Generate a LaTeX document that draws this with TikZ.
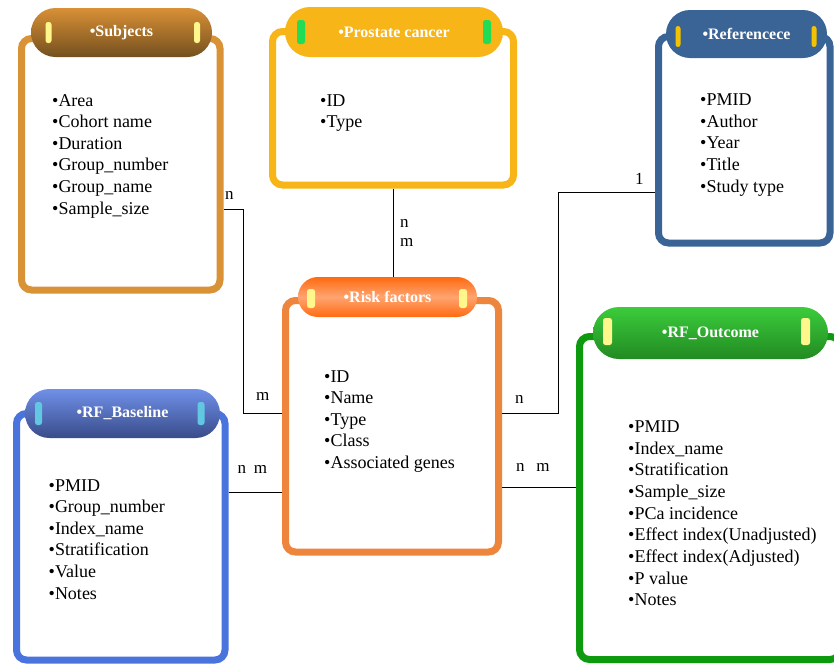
\documentclass[tikz,border=0pt]{standalone}
\usepackage{fontspec}
\setmainfont{Liberation Serif}
\usetikzlibrary{shapes.misc}
\definecolor{subjC}{HTML}{DA9236}
\definecolor{subjT}{HTML}{D89036}
\definecolor{subjB}{HTML}{74501F}
\definecolor{pcaC}{HTML}{F8B517}
\definecolor{refC}{HTML}{3A6495}
\definecolor{riskC}{HTML}{EE853C}
\definecolor{riskT}{HTML}{FF6A10}
\definecolor{riskM}{HTML}{FFA470}
\definecolor{baseC}{HTML}{4A74DD}
\definecolor{baseT}{HTML}{7090E8}
\definecolor{baseB}{HTML}{394C8A}
\definecolor{outC}{HTML}{0E9A0E}
\definecolor{outT}{HTML}{3BCC3B}
\definecolor{outB}{HTML}{228A22}
\definecolor{paleY}{HTML}{FFF68C}
\definecolor{tabG}{HTML}{22DC55}
\definecolor{tabO}{HTML}{F3C200}
\definecolor{tabC}{HTML}{62C8E2}
\tikzset{frame/.style={rectangle,rounded corners=10pt,line width=7pt,fill=white}}
\tikzset{hd/.style={rounded rectangle,inner sep=0pt,text=white,font=\fontsize{16pt}{19pt}\selectfont\bfseries}}
\tikzset{tab/.style={rectangle,rounded corners=2.5pt,inner sep=0pt}}
\tikzset{item/.style={anchor=base west,inner sep=0pt,font=\fontsize{18pt}{21.65pt}\selectfont}}
\tikzset{lbl/.style={anchor=base west,inner sep=0pt,font=\fontsize{17pt}{20pt}\selectfont}}
\tikzset{link/.style={line width=0.9pt}}

\begin{document}
\begin{tikzpicture}[x=1pt,y=-1pt]
      \useasboundingbox (0,0) rectangle (834,665);
      \clip (0,0) rectangle (834,665);
      \fill[white] (0,0) rectangle (834,665);

      \node[frame,draw=subjC,minimum width=198.5pt,minimum height=251.5pt] (subj) at (120.75,164.25) {};
      \node[frame,draw=pcaC,minimum width=241pt,minimum height=153.5pt] (pca) at (393,108.25) {};
      \node[frame,draw=refC,minimum width=171.5pt,minimum height=206.5pt] (refs) at (744.25,139.75) {};
      \node[frame,draw=riskC,minimum width=213pt,minimum height=251.5pt] (risk) at (392,426.25) {};
      \node[frame,draw=baseC,minimum width=208.5pt,minimum height=246.5pt] (base) at (120.75,536.75) {};
      \node[frame,draw=outC,minimum width=260.5pt,minimum height=323pt] (outc) at (709.75,498) {};

      \node[hd,top color=subjT,bottom color=subjB,minimum width=181pt,minimum height=49pt] (subjh) at (121.5,32.5) {•Subjects};
      \node[hd,fill=pcaC,minimum width=218pt,minimum height=50pt] (pcah) at (394,32) {•Prostate cancer};
      \node[hd,fill=refC,minimum width=161pt,minimum height=48pt] (refh) at (746.5,34) {•Referencece};
      \node[hd,top color=riskT,bottom color=riskT,middle color=riskM,minimum width=179pt,minimum height=40pt] (riskh) at (387.5,297) {•Risk factors};
      \node[hd,top color=baseT,bottom color=baseB,minimum width=195pt,minimum height=49pt] (baseh) at (122.5,413.5) {•RF\_Baseline};
      \node[hd,top color=outT,bottom color=outB,minimum width=235pt,minimum height=52pt] (outh) at (710.5,333) {•RF\_Outcome};

      \node[tab,fill=paleY,minimum width=6pt,minimum height=21pt] (t1) at (48.5,32.5) {};
      \node[tab,fill=paleY,minimum width=6pt,minimum height=21pt] (t2) at (197,32.5) {};
      \node[tab,fill=tabG,minimum width=8pt,minimum height=24pt] (t3) at (301,32) {};
      \node[tab,fill=tabG,minimum width=8pt,minimum height=24pt] (t4) at (487,32) {};
      \node[tab,fill=tabO,minimum width=5pt,minimum height=21pt] (t5) at (678,36.5) {};
      \node[tab,fill=tabO,minimum width=5pt,minimum height=21pt] (t6) at (814,36.5) {};
      \node[tab,fill=paleY,minimum width=8pt,minimum height=19pt] (t7) at (311,298.5) {};
      \node[tab,fill=paleY,minimum width=8pt,minimum height=19pt] (t8) at (463,298.5) {};
      \node[tab,fill=tabC,minimum width=7pt,minimum height=23pt] (t9) at (38.5,413.5) {};
      \node[tab,fill=tabC,minimum width=7pt,minimum height=23pt] (t10) at (201,413.5) {};
      \node[tab,fill=paleY,minimum width=9pt,minimum height=27pt] (t11) at (607.5,331.5) {};
      \node[tab,fill=paleY,minimum width=9pt,minimum height=27pt] (t12) at (805.5,331.5) {};

      \foreach \w [count=\i] in {Area,Cohort name,Duration,Group\_number,Group\_name,Sample\_size}
        \node[item] (s\i) at (52,{106+21.65*(\i-1)}) {•\w};
      \foreach \w [count=\i] in {ID,Type}
        \node[item] (p\i) at (320,{106+21.65*(\i-1)}) {•\w};
      \foreach \w [count=\i] in {PMID,Author,Year,Title,Study type}
        \node[item] (r\i) at (700,{105.5+21.65*(\i-1)}) {•\w};
      \foreach \w [count=\i] in {ID,Name,Type,Class,Associated genes}
        \node[item] (k\i) at (324,{382+21.65*(\i-1)}) {•\w};
      \foreach \w [count=\i] in {PMID,Group\_number,Index\_name,Stratification,Value,Notes}
        \node[item] (b\i) at (48.5,{491+21.65*(\i-1)}) {•\w};
      \foreach \w [count=\i] in {PMID,Index\_name,Stratification,Sample\_size,PCa incidence,Effect index(Unadjusted),Effect index(Adjusted),P value,Notes}
        \node[item] (o\i) at (628,{432.5+21.65*(\i-1)}) {•\w};

      \coordinate (j1) at (243,209);
      \coordinate (j2) at (243,413);
      \coordinate (j3) at (558,413);
      \coordinate (j4) at (558,192);
      \coordinate (j5) at (0,492);
      \coordinate (j6) at (0,487);
      \draw[link] (subj.east |- j1) -- (j1) -- (j2) -- (risk.west |- j2);
      \draw[link] (pca.south) -- (pca.south |- riskh.north);
      \draw[link] (risk.east |- j3) -- (j3) -- (j4) -- (refs.west |- j4);
      \draw[link] (base.east |- j5) -- (risk.west |- j5);
      \draw[link] (risk.east |- j6) -- (outc.west |- j6);

      \node[lbl] (l1) at (225,199) {n};
      \node[lbl] (l2) at (256,400) {m};
      \node[lbl] (l3) at (400,227) {n};
      \node[lbl] (l4) at (400,246.5) {m};
      \node[lbl] (l5) at (515,403) {n};
      \node[lbl] (l6) at (635,184) {1};
      \node[lbl] (l7) at (237.5,473) {n\hspace{7.6pt}m};
      \node[lbl] (l8) at (516,471) {n\hspace{11.7pt}m};
    \end{tikzpicture}
\end{document}
